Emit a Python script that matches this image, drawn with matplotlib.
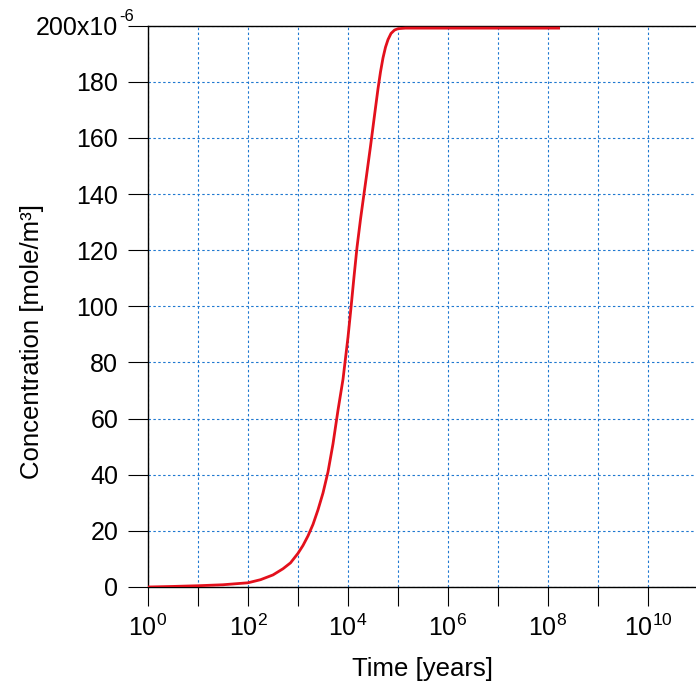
import math
import matplotlib
matplotlib.use("Agg")
import matplotlib.pyplot as plt
from matplotlib.ticker import FixedLocator, FuncFormatter, NullLocator

plt.rcParams["font.family"] = ["Liberation Sans", "DejaVu Sans"]
plt.rcParams["mathtext.fontset"] = "custom"
plt.rcParams["mathtext.rm"] = "Liberation Sans"
plt.rcParams["mathtext.it"] = "Liberation Sans:italic"
plt.rcParams["mathtext.bf"] = "Liberation Sans:bold"

# Breakthrough curve: time in years, concentration in 1e-6 mole/m3
time_years = [1, 3.16, 10, 31.6, 100, 178, 316, 501, 708, 1000, 1259, 1585,
              1995, 2512, 3162, 3981, 5012, 6310, 7943, 10000, 11482, 13183,
              15136, 17783, 19953, 23442, 28184, 33884, 39811, 44668, 50119,
              56234, 63096, 72444, 85114, 100000, 141254, 1.74e8]
conc_micro = [0.0, 0.2, 0.45, 0.8, 1.5, 2.6, 4.3, 6.5, 8.6, 12.0, 14.8,
              18.2, 22.3, 27.5, 33.5, 41.0, 51.0, 63.0, 74.0, 89.0, 99.5,
              110.5, 121.0, 131.0, 137.5, 146.5, 157.0, 168.0, 177.5, 183.5,
              188.5, 192.3, 195.0, 197.2, 198.4, 198.9, 199.1, 199.1]

y_ticks = [0, 20, 40, 60, 80, 100, 120, 140, 160, 180, 200]
x_decades = list(range(0, 11))
x_labeled = [0, 2, 4, 6, 8, 10]

W, H = 696, 689
fig = plt.figure(figsize=(W / 100, H / 100), dpi=100)
ax = fig.add_axes([148 / W, 102 / H, 548 / W, 561.4 / H])

conc = [c * 1e-6 for c in conc_micro]
ax.plot(time_years, conc, color="#e3101c", lw=2.0, solid_capstyle="butt",
        solid_joinstyle="round", zorder=3)

ax.set_xscale("log")
ax.set_xlim(1, 10 ** 10.96)
ax.set_ylim(0, 200e-6)

ax.xaxis.set_major_locator(FixedLocator([10.0 ** d for d in x_decades]))
ax.xaxis.set_minor_locator(NullLocator())


def xfmt(v, pos):
    d = int(round(math.log10(v)))
    return r"$\mathregular{10^{%d}}$" % d if d in x_labeled else ""


ax.xaxis.set_major_formatter(FuncFormatter(xfmt))
ax.yaxis.set_major_locator(FixedLocator([v * 1e-6 for v in y_ticks]))


def yfmt(v, pos):
    n = int(round(v * 1e6))
    return "200x10" if n == 200 else str(n)


ax.yaxis.set_major_formatter(FuncFormatter(yfmt))

ax.tick_params(axis="y", direction="out", length=14.4, width=0.8,
               pad=7, labelsize=18, colors="black")
ax.tick_params(axis="x", direction="out", length=13.7, width=0.8,
               pad=6, labelsize=18, colors="black")

# exponent of the top tick label, set as a small raised hyphen-six
fig.text(119.5 / W, 1 - 21 / H, "-6", fontsize=12, ha="left", va="baseline")

ax.grid(True, which="major", color="#1f78d0", lw=0.8,
        linestyle=(0, (2.2, 2.2)))
ax.set_axisbelow(True)

for side in ("left", "bottom", "top"):
    ax.spines[side].set_linewidth(1.0)
    ax.spines[side].set_color("black")
ax.spines["right"].set_visible(False)

ax.set_xlabel("Time [years]", fontsize=18.5)
ax.xaxis.set_label_coords(0.5, -0.125)
ax.set_ylabel("Concentration [mole/m³]", fontsize=18.5)
ax.yaxis.set_label_coords(-0.19, 0.438)

fig.savefig("out.png", dpi=100)
